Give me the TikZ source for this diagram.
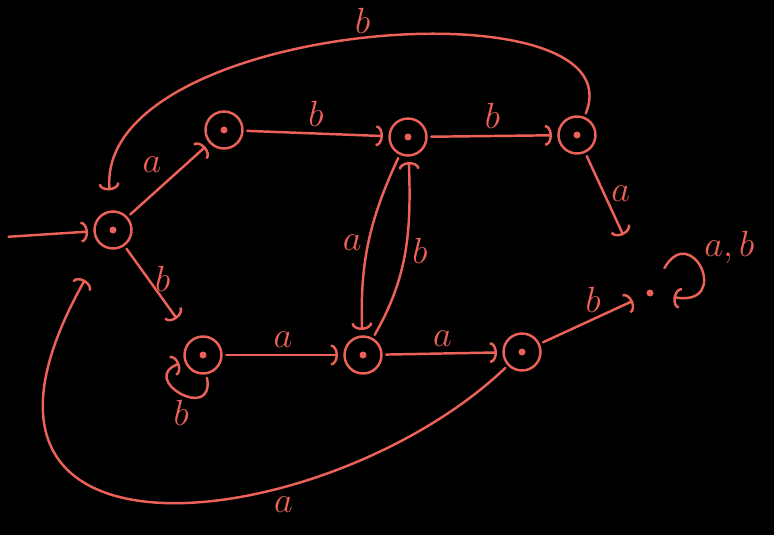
\documentclass[tikz,border=0pt]{standalone}
\usepackage{amsmath}
\usetikzlibrary{arrows.meta}
\definecolor{chalk}{RGB}{236,98,88}
\tikzstyle{chalkstate}=[circle, draw=chalk, line width=1.4pt, minimum size=0.74cm, inner sep=0pt,
	path picture={\fill[chalk] (path picture bounding box.center) circle (0.07cm);}]
\tikzstyle{chalkdot}=[circle, fill=chalk, minimum size=0.14cm, inner sep=0pt]
\tikzstyle{chalkedge}=[chalk, line width=1.4pt, line cap=round, shorten <=2pt, shorten >=3pt,
	-{Arc Barb[length=4pt, width=12pt]}]
\tikzstyle{lbl}=[text=chalk, font=\huge]

\begin{document}
\begin{tikzpicture}[x=0.02cm, y=0.02cm]
	\useasboundingbox (0,0) rectangle (774,535);
	\fill[black] (0,0) rectangle (774,535);

	% States of the automaton
	\node[chalkstate] (q0) at (113,305) {};
	\node[chalkstate] (q1) at (224,405) {};
	\node[chalkstate] (q2) at (408,398) {};
	\node[chalkstate] (q3) at (577,400) {};
	\node[chalkstate] (q4) at (203,180) {};
	\node[chalkstate] (q5) at (363,180) {};
	\node[chalkstate] (q6) at (522,183) {};
	\node[chalkdot] (sink) at (650,242) {};
	\coordinate (start) at (5,298);

	% Transitions
	\draw[chalkedge] (start) -- (q0);
	\draw[chalkedge] (q0) -- node[lbl, above left] {$a$} (q1);
	\draw[chalkedge] (q1) -- node[lbl, above] {$b$} (q2);
	\draw[chalkedge] (q2) -- node[lbl, above] {$b$} (q3);
	\draw[chalkedge, shorten >=1.2cm] (q3) -- node[lbl, right, pos=0.3] {$a$} (sink);
	\draw[chalkedge, shorten >=0.5cm] (q0) -- node[lbl, right, pos=0.35] {$b$} (q4);
	\draw[chalkedge] (q4) to[loop, out=-80, in=-160, min distance=1cm] node[lbl, below] {$b$} (q4);
	\draw[chalkedge] (q4) -- node[lbl, above] {$a$} (q5);
	\draw[chalkedge] (q5) -- node[lbl, above] {$a$} (q6);
	\draw[chalkedge] (q2) to[out=245, in=92] node[lbl, left] {$a$} (q5);
	\draw[chalkedge] (q5) to[out=60, in=-88] node[lbl, right] {$b$} (q2);
	\draw[chalkedge, shorten >=0.3cm] (q6) -- node[lbl, above] {$b$} (sink);
	\draw[chalkedge, shorten <=0.5cm, shorten >=0.4cm] (sink) to[loop, out=60, in=-10, min distance=1.6cm]
		node[lbl, above right] {$a, b$} (sink);

	% Long arcs back to the initial state
	\draw[chalkedge, shorten >=0.4cm] (q3) .. controls (640,555) and (95,515) .. node[lbl, above] {$b$} (q0);
	\draw[chalkedge, shorten >=0.75cm] (q6) .. controls (330,0) and (-90,-55) .. node[lbl, below, pos=0.33, yshift=-2pt] {$a$} (q0);
\end{tikzpicture}
\end{document}
